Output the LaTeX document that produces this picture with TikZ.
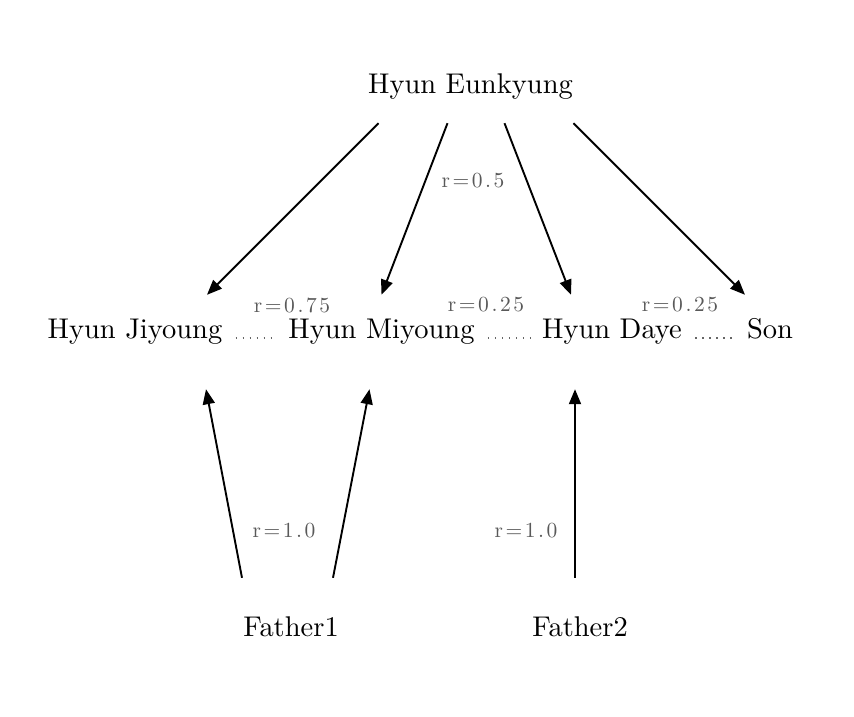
\documentclass[tikz,border=0pt]{standalone}
\usepackage{fontspec}
\setmainfont{lmroman10-regular}[Extension=.otf]
\newfontfamily\rfont{lmroman10-regular}[Extension=.otf, LetterSpace=12]
\usetikzlibrary{arrows.meta}
\begin{document}
\begin{tikzpicture}[x=1pt, y=-1pt,
  person/.style={inner xsep=0pt, inner ysep=24pt, text height=20pt, text depth=6pt, anchor=base, font={\fontsize{28.5}{34}\selectfont}},
  rlabel/.style={text=black!65, inner sep=0pt, font={\rfont\fontsize{21.5}{26}\selectfont}},
  parent/.style={-{Triangle[length=15pt, width=12pt]}, line width=1.9pt},
  sibling/.style={black!60, line width=1.8pt, dash pattern={on 1.6pt off 5.4pt}, shorten <=13pt, shorten >=11pt}]
  \useasboundingbox (0,0) rectangle (854,716);

  % mother
  \node[person] (eunkyung) at (470.5,93) {Hyun Eunkyung};

  % children
  \node[person] (jiyoung) at (135,338) {Hyun Jiyoung};
  \node[person] (miyoung) at (381.5,338) {Hyun Miyoung};
  \node[person] (daye) at (612,338) {Hyun Daye};
  \node[person] (son) at (770,338) {Son};

  % fathers
  \node[person] (father1) at (291,636) {Father1};
  \node[person] (father2) at (580,636) {Father2};

  \draw[parent] ([xshift=-92pt]eunkyung.south) -- ([xshift=72pt, yshift=-1pt]jiyoung.north);
  \draw[parent] ([xshift=-23pt]eunkyung.south) -- ([xshift=0pt, yshift=-1pt]miyoung.north);
  \draw[parent] ([xshift=34pt]eunkyung.south) -- ([xshift=-41pt, yshift=-1pt]daye.north);
  \draw[parent] ([xshift=103pt]eunkyung.south) -- ([xshift=-25pt, yshift=-1pt]son.north);

  \draw[parent] ([xshift=-49pt, yshift=14pt]father1.north) -- ([xshift=71pt, yshift=-21pt]jiyoung.south);
  \draw[parent] ([xshift=42pt, yshift=14pt]father1.north) -- ([xshift=-12pt, yshift=-21pt]miyoung.south);
  \draw[parent] ([xshift=-5pt, yshift=14pt]father2.north) -- ([xshift=-37pt, yshift=-21pt]daye.south);

  \draw[sibling] (jiyoung.base east) -- (miyoung.base west);
  \draw[sibling] (miyoung.base east) -- (daye.base west);
  \draw[sibling] (daye.base east) -- (son.base west);

  \node[rlabel] (r1) at (473,181) {r=0.5};
  \node[rlabel] (r2) at (292,305) {r=0.75};
  \node[rlabel] (r3) at (486,305) {r=0.25};
  \node[rlabel] (r4) at (680,305) {r=0.25};
  \node[rlabel] (r5) at (284,531) {r=1.0};
  \node[rlabel] (r6) at (526,531) {r=1.0};
\end{tikzpicture}
\end{document}
